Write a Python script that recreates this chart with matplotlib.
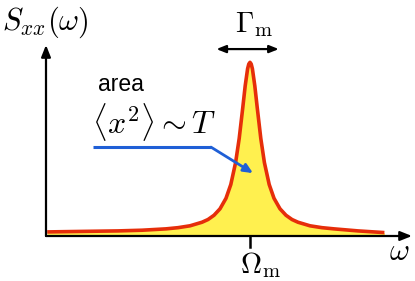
import matplotlib
matplotlib.use("Agg")
import matplotlib.pyplot as plt

plt.rcParams["mathtext.fontset"] = "cm"

# === data (omega in units of the half-width, peak at 17) ===
omega = [0.1, 2, 4, 6, 8, 10, 11, 12, 13, 13.5, 14, 14.5, 15, 15.4, 15.8,
         16.1, 16.4, 16.6, 16.8, 16.9, 17.0, 17.1, 17.2, 17.4, 17.6, 17.9,
         18.2, 18.6, 19.0, 19.5, 20.0, 20.5, 21.0, 22.0, 23.0, 24.0, 26.0, 28.2]
spectrum = [0.024, 0.026, 0.028, 0.030, 0.034, 0.042, 0.049, 0.060, 0.081,
            0.097, 0.122, 0.160, 0.222, 0.303, 0.432, 0.574, 0.757, 0.884,
            0.984, 1.012, 1.022, 1.012, 0.984, 0.884, 0.757, 0.574, 0.432,
            0.303, 0.222, 0.160, 0.122, 0.097, 0.081, 0.060, 0.049, 0.042,
            0.030, 0.020]
omega_m = 17.0
gamma_ends = [14.2, 19.4]

x_max = 30.5
y_max = 1.124

fig = plt.figure(figsize=(4.15, 2.81), dpi=100)
ax = fig.add_axes([46 / 415, 45 / 281, 366 / 415, 191 / 281])
ax.set_xlim(0, x_max)
ax.set_ylim(0, y_max)
ax.axis("off")

# === curve ===
ax.fill_between(omega, spectrum, 0, color="#fff04f", lw=0, zorder=1)
ax.plot(omega, spectrum, color="#e62e0a", lw=2.6, solid_capstyle="butt",
        zorder=2)

# === axes with arrows ===
head = "-|>,head_length=0.7,head_width=0.28"
ax.annotate("", xy=(x_max, 0), xytext=(0, 0), annotation_clip=False,
            arrowprops=dict(arrowstyle=head, color="black", lw=1.6,
                            shrinkA=0, shrinkB=0), zorder=3)
ax.annotate("", xy=(0, y_max), xytext=(0, 0), annotation_clip=False,
            arrowprops=dict(arrowstyle=head, color="black", lw=1.6,
                            shrinkA=0, shrinkB=0), zorder=3)

# tick at Omega_m
ax.plot([omega_m, omega_m], [0, -0.065], color="black", lw=1.8,
        clip_on=False, zorder=3)
ax.text(16.2, -0.17, r"$\Omega_{\rm m}$", fontsize=21, ha="left",
        va="center")
ax.text(29.4, -0.094, r"$\omega$", fontsize=22, ha="center", va="center")
ax.text(-3.65, 1.255, r"$S_{xx}(\omega)$", fontsize=22, ha="left",
        va="center")

# width arrow
ax.annotate("", xy=(gamma_ends[1], 1.1), xytext=(gamma_ends[0], 1.1),
            annotation_clip=False,
            arrowprops=dict(arrowstyle="<|-|>,head_length=0.55,head_width=0.22",
                            color="black", lw=1.6, shrinkA=0, shrinkB=0))
ax.text(17.35, 1.245, r"$\Gamma_{\rm m}$", fontsize=21, ha="center",
        va="center")

# area annotation
ax.text(6.25, 0.89, "area", fontsize=16.5, family="Liberation Sans",
        ha="center", va="center")
ax.text(3.8, 0.67, r"$\langle x^2\rangle \sim T$", fontsize=23, ha="left",
        va="center")
ax.plot([3.9, 13.75], [0.523, 0.523], color="#1f5fd6", lw=2.2,
        solid_capstyle="butt")
ax.annotate("", xy=(17.25, 0.37), xytext=(13.75, 0.523),
            annotation_clip=False,
            arrowprops=dict(arrowstyle="-|>,head_length=0.55,head_width=0.25",
                            color="#1f5fd6", lw=2.0, shrinkA=0, shrinkB=0))

fig.savefig("out.png", dpi=100)
